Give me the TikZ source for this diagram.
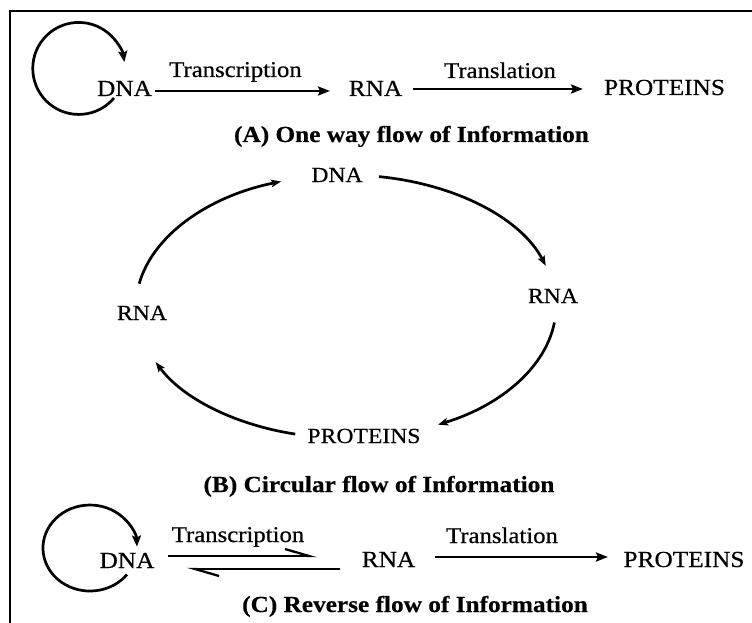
\documentclass[tikz,border=0pt]{standalone}
\usepackage{fontspec}
\newfontfamily\figfont[FakeStretch=1.1, FakeBold=0.5]{Liberation Serif}
\usetikzlibrary{arrows.meta}
\begin{document}
\begin{tikzpicture}[x=1pt,y=1pt,
  lbl/.style={font=\figfont\fontsize{23}{26}\selectfont, inner sep=0pt, anchor=base},
  lblB/.style={lbl, font=\figfont\fontsize{21.5}{26}\selectfont},
  arrlbl/.style={lbl, font=\figfont\fontsize{22.5}{26}\selectfont},
  ttl/.style={lbl, font=\figfont\bfseries\fontsize{23}{26}\selectfont},
  flow/.style={line width=2.7pt, -{Stealth[length=12pt,width=9pt,inset=2pt]}},
  selfarc/.style={line width=2.7pt, -{Stealth[length=11pt,width=9pt,inset=2pt]}},
  cyc/.style={line width=2.7pt, -{Stealth[length=10pt,width=7.5pt,inset=2pt]}},
  barb/.style={line width=2.3pt, -{Straight Barb[harpoon,length=24pt,width=14pt]}},
]
\useasboundingbox (0,0) rectangle (752,-623);
% frame
\draw[line width=2pt] (752,-11) -- (9.5,-11) -- (9.5,-623);

% ---------- (A) one way flow ----------
\node[lbl] (dnaA)  at (124.5,-96) {DNA};
\node[lbl] (rnaA)  at (375.5,-96) {RNA};
\node[lbl] (protA) at (664.5,-95) {PROTEINS};
\node[arrlbl] (transcrA) at (235.5,-77) {Transcription};
\node[arrlbl] (translA)  at (500,-78) {Translation};
\node[ttl] (titleA) at (411.5,-142) {(A) One way flow of Information};

\draw[selfarc] ([shift={(-10.5,-2)}]dnaA.base) arc[start angle=-40, end angle=-352, radius=46];
\draw[flow] ([shift={(30.5,5)}]dnaA.base) -- ([shift={(-45.5,5)}]rnaA.base);
\draw[flow] ([shift={(37.5,7)}]rnaA.base) -- ([shift={(-81.5,6)}]protA.base);

% ---------- (B) circular flow ----------
\node[lblB] (dnaB)  at (337,-182) {DNA};
\node[lblB] (rnaR)  at (553,-303) {RNA};
\node[lblB] (protB) at (364,-443) {PROTEINS};
\node[lblB] (rnaL)  at (142,-320) {RNA};
\node[ttl] (titleB) at (379,-492) {(B) Circular flow of Information};

\draw[cyc] ([shift={(41.9,5.4)}]dnaB.base) arc[start angle=81, end angle=18, x radius=210, y radius=131.5];
\draw[cyc] ([shift={(1.4,-19.5)}]rnaR.base) arc[start angle=-7, end angle=-64, x radius=210, y radius=131.5];
\draw[cyc] ([shift={(-68.8,8.9)}]protB.base) arc[start angle=-104, end angle=-155, x radius=210, y radius=131.5];
\draw[cyc] ([shift={(-2.8,36.3)}]rnaL.base) arc[start angle=170, end angle=108, x radius=210, y radius=131.5];

% ---------- (C) reverse flow ----------
\node[lbl] (dnaC)  at (127,-568) {DNA};
\node[lbl] (rnaC)  at (388.5,-567) {RNA};
\node[lbl] (protC) at (684,-567) {PROTEINS};
\node[arrlbl] (transcrC) at (238,-542) {Transcription};
\node[arrlbl] (translC)  at (502,-543) {Translation};
\node[ttl] (titleC) at (415,-612) {(C) Reverse flow of Information};

\draw[selfarc] ([shift={(0,-6.5)}]dnaC.base) arc[start angle=-38, end angle=-358, x radius=47, y radius=43];
\draw[barb] ([shift={(41,12)}]dnaC.base) -- ([shift={(-71.5,11)}]rnaC.base);
\draw[barb] ([shift={(-48.5,-2)}]rnaC.base) -- ([shift={(60,-1)}]dnaC.base);
\draw[flow] ([shift={(46.5,10)}]rnaC.base) -- ([shift={(-76,10)}]protC.base);
\end{tikzpicture}
\end{document}
